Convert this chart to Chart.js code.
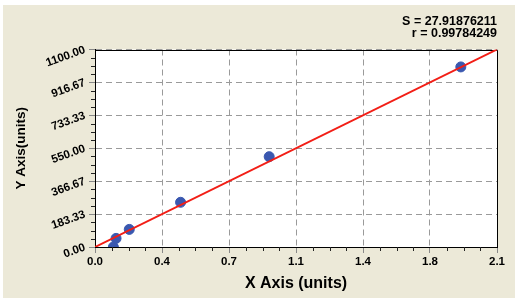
<!DOCTYPE html>
<html>
<head>
<meta charset="utf-8">
<script src="https://cdn.jsdelivr.net/npm/chart.js@4"></script>
<style>
  body { margin: 0; background: #fff; }
</style>
</head>
<body>
<canvas id="curve" width="518" height="303"></canvas>
<script>
// measured points (x, y)
const xValues = [0.096, 0.11, 0.179, 0.447, 0.91, 1.911]
const yValues = [0, 48, 98, 249, 503, 1003]

// fitted line ends
const fitX = [0, 2.1]
const fitY = [0, 1100]

const xTicks = [0, 0.35, 0.7, 1.05, 1.4, 1.75, 2.1]
const xTickLabels = ['0.0', '0.4', '0.7', '1.1', '1.4', '1.8', '2.1']
const yTicks = [0, 183.33, 366.67, 550, 733.33, 916.67, 1100]
const yTickLabels = ['0.00', '183.33', '366.67', '550.00', '733.33', '916.67', '1100.00']

const statLines = ['S = 27.91876211', 'r = 0.99784249']

const FONT = "'Liberation Sans', Arial, sans-serif"

// beige panel + white plot + top/right border
const frame = {
  id: 'frame',
  beforeDraw(chart) {
    const { ctx, chartArea: a } = chart
    ctx.save()
    ctx.fillStyle = '#fff'
    ctx.fillRect(0, 0, chart.width, chart.height)
    ctx.fillStyle = '#ECE9D8'
    ctx.fillRect(3, 5, chart.width - 6, chart.height - 10)
    ctx.fillStyle = '#fff'
    ctx.fillRect(a.left, a.top, a.right - a.left, a.bottom - a.top)
    ctx.restore()
  },
  beforeDatasetsDraw(chart) {
    const { ctx, chartArea: a } = chart
    ctx.save()
    ctx.strokeStyle = '#000'
    ctx.lineWidth = 1
    ctx.beginPath()
    ctx.moveTo(Math.round(a.left) + 0.5, Math.round(a.top) + 0.5)
    ctx.lineTo(Math.round(a.right) + 0.5, Math.round(a.top) + 0.5)
    ctx.lineTo(Math.round(a.right) + 0.5, Math.round(a.bottom) + 0.5)
    ctx.stroke()
    ctx.restore()
  }
}

// small ticks between the labelled ones
const minorTicks = {
  id: 'minorTicks',
  afterDraw(chart) {
    const { ctx, scales: { x, y } } = chart
    ctx.save()
    ctx.strokeStyle = '#222'
    ctx.lineWidth = 1
    ctx.beginPath()
    for (let i = 0; i < xTicks.length - 1; i++) {
      for (let k = 1; k < 4; k++) {
        const px = Math.round(x.getPixelForValue(xTicks[i] + (xTicks[i + 1] - xTicks[i]) * k / 4)) + 0.5
        ctx.moveTo(px, x.top)
        ctx.lineTo(px, x.top + 4)
      }
    }
    for (let i = 0; i < yTicks.length - 1; i++) {
      for (let k = 1; k < 4; k++) {
        const py = Math.round(y.getPixelForValue(yTicks[i] + (yTicks[i + 1] - yTicks[i]) * k / 4)) + 0.5
        ctx.moveTo(y.right, py)
        ctx.lineTo(y.right - 4, py)
      }
    }
    ctx.stroke()
    ctx.restore()
  }
}

new Chart(document.getElementById('curve'), {
  type: 'scatter',
  data: {
    datasets: [
      {
        type: 'line',
        data: fitX.map((v, i) => ({ x: v, y: fitY[i] })),
        borderColor: '#F21E16',
        borderWidth: 2,
        pointRadius: 0,
        fill: false
      },
      {
        data: xValues.map((v, i) => ({ x: v, y: yValues[i] })),
        backgroundColor: '#3A58B0',
        borderColor: '#3A58B0',
        pointRadius: 5
      }
    ]
  },
  options: {
    responsive: false,
    animation: false,
    events: [],
    layout: { padding: { left: 0, right: 21, top: 0, bottom: 0 } },
    plugins: {
      legend: { display: false },
      tooltip: { enabled: false },
      title: {
        display: true,
        text: statLines,
        align: 'end',
        color: '#000',
        font: { family: FONT, size: 12.5, weight: 'bold', lineHeight: 1 },
        padding: { top: 15, bottom: 9.5 }
      }
    },
    scales: {
      x: {
        type: 'linear',
        min: 0,
        max: 2.1,
        afterBuildTicks: s => { s.ticks = xTicks.map(v => ({ value: v })) },
        afterFit: s => { s.height = 56 },
        ticks: {
          callback: (v, i) => xTickLabels[i],
          color: '#000',
          font: { family: FONT, size: 11.5, weight: 'bold' },
          padding: 2,
          maxRotation: 0
        },
        grid: { color: '#9a9a9a', tickColor: '#888', tickLength: 6 },
        border: { color: '#000', dash: [6, 4] },
        title: {
          display: true,
          text: 'X Axis (units)',
          color: '#000',
          font: { family: FONT, size: 16, weight: 'bold' },
          padding: { top: 0, bottom: 10 }
        }
      },
      y: {
        type: 'linear',
        min: 0,
        max: 1100,
        afterBuildTicks: s => { s.ticks = yTicks.map(v => ({ value: v })) },
        afterFit: s => { s.width = 95 },
        ticks: {
          callback: (v, i) => yTickLabels[i],
          color: '#000',
          font: { family: FONT, size: 11.5, weight: 'bold' },
          padding: 4,
          minRotation: 20,
          maxRotation: 20
        },
        grid: { color: '#9a9a9a', tickColor: '#888', tickLength: 6 },
        border: { color: '#000', dash: [6, 4] },
        title: {
          display: true,
          text: 'Y Axis(units)',
          color: '#000',
          font: { family: FONT, size: 13.5, weight: 'bold' },
          padding: { top: 13, bottom: 0 }
        }
      }
    }
  },
  plugins: [frame, minorTicks]
})
</script>
</body>
</html>
